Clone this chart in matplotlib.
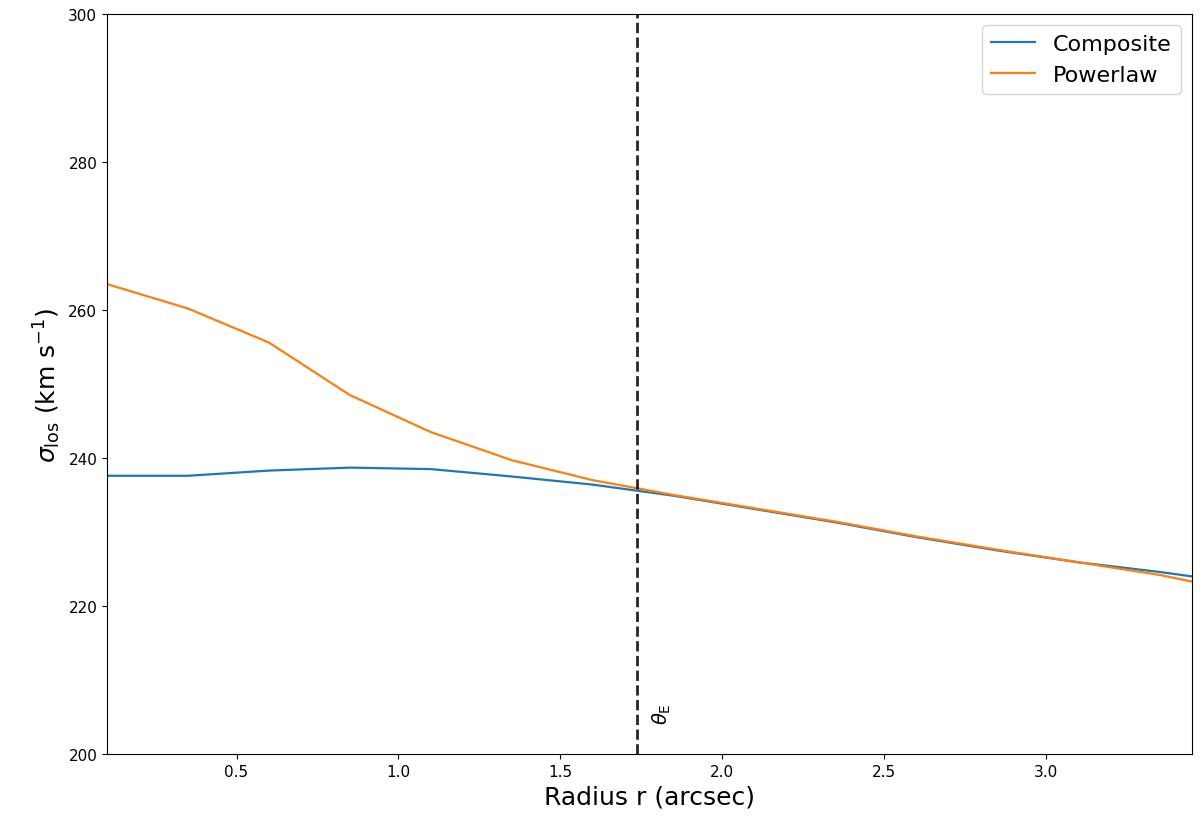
import matplotlib
matplotlib.use('Agg')
import matplotlib.pyplot as plt
import numpy as np

# radius grid (arcsec) and velocity dispersion profiles (km/s)
radius = [0.1, 0.35, 0.6, 0.85, 1.1, 1.35, 1.6, 1.85, 2.1, 2.35, 2.6, 2.85, 3.1, 3.35, 3.45]
sigma_composite = [237.6, 237.6, 238.3, 238.7, 238.5, 237.5, 236.4, 234.9, 233.1, 231.3,
                   229.3, 227.5, 225.9, 224.6, 224.0]
sigma_powerlaw = [263.5, 260.2, 255.6, 248.5, 243.5, 239.7, 237.0, 235.0, 233.2, 231.4,
                  229.4, 227.6, 225.9, 224.2, 223.3]
theta_E = 1.735

fig = plt.figure(figsize=(12, 8.28), dpi=100)
ax = fig.add_axes([107 / 1200, 1 - 755 / 828, (1192 - 107) / 1200, (755 - 15) / 828])

ax.plot(radius, sigma_composite, color='#1f77b4', lw=1.6, label='Composite')
ax.plot(radius, sigma_powerlaw, color='#ff7f0e', lw=1.6, label='Powerlaw')
ax.axvline(theta_E, color='k', ls='--', lw=2, alpha=0.85)
ax.text(theta_E + 0.045, 204, r'$\theta_{\rm E}$', rotation=90, fontsize=14,
        ha='left', va='bottom')

ax.set_xlim(min(radius), max(radius))
ax.set_ylim(200, 300)
ax.set_yticks(np.arange(200, 301, 20))
ax.set_xlabel('Radius r (arcsec)', fontsize=18)
ax.set_ylabel(r'$\sigma_{\rm los}$ (km s$^{-1}$)', fontsize=18)
ax.tick_params(labelsize=11)
ax.legend(loc='upper right', fontsize=16)

fig.savefig('out.png', dpi=100)
